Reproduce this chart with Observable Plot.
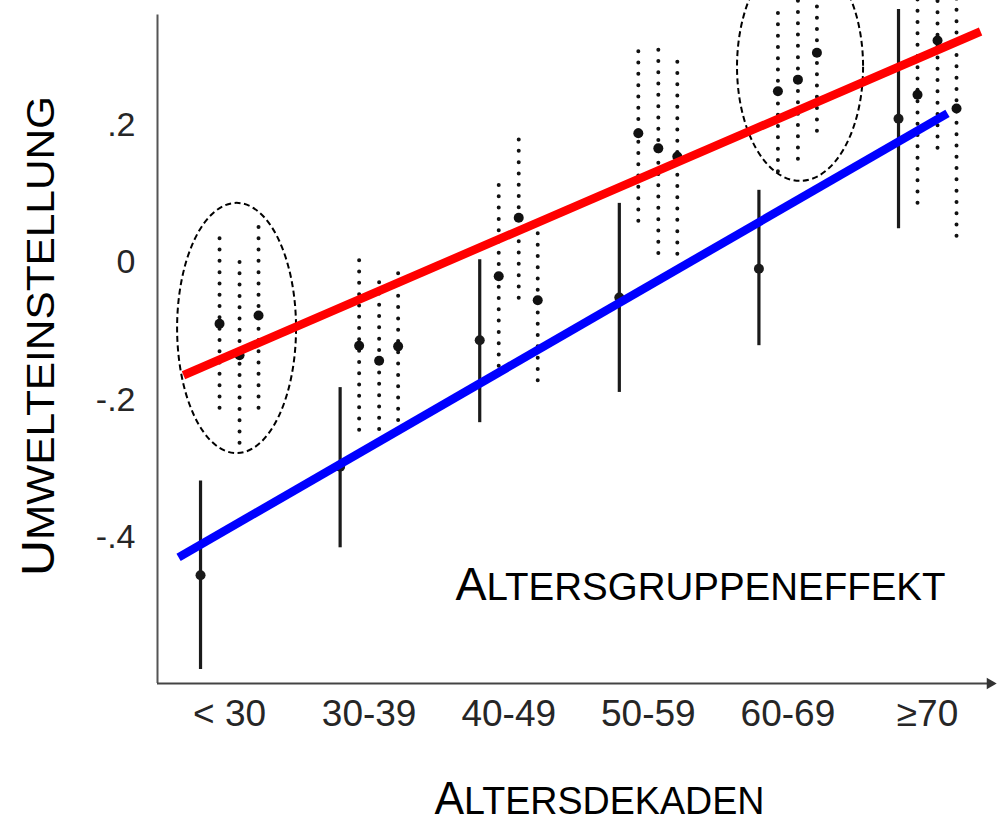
<!DOCTYPE html>
<html><head><meta charset="utf-8">
<script src="https://cdn.jsdelivr.net/npm/d3@7"></script>
<script src="https://cdn.jsdelivr.net/npm/@observablehq/plot@0.6"></script>
<style>
html,body{margin:0;padding:0;background:#fff;}
#chart{width:1005px;height:822px;overflow:hidden;position:relative;}
#chart svg{display:block;}
</style></head><body><div id="chart"></div>
<script>
// ---- data ----
const ageGroups = ["< 30", "30-39", "40-49", "50-59", "60-69", "≥70"];
// cross-sectional means (solid bars)
const crossMean = [-0.455, -0.297, -0.113, -0.051, -0.009, 0.209];
const crossLow  = [-0.592, -0.415, -0.233, -0.189, -0.121, 0.049];
const crossHigh = [-0.318, -0.182, 0.004, 0.086, 0.105, 0.368];
// three cohort series (dotted bars)
const cohortAMean = [-0.089, -0.121, -0.020, 0.188, 0.249, 0.244];
const cohortALow  = [-0.212, -0.244, -0.151, 0.060, 0.132, 0.086];
const cohortAHigh = [0.036, 0.004, 0.112, 0.317, 0.369, 0.385];
const cohortBMean = [-0.135, -0.143, 0.065, 0.166, 0.266, 0.323];
const cohortBLow  = [-0.263, -0.243, -0.052, 0.013, 0.150, 0.166];
const cohortBHigh = [0.000, -0.023, 0.185, 0.320, 0.385, 0.390];
const cohortCMean = [-0.077, -0.122, -0.055, 0.154, 0.305, 0.224];
const cohortCLow  = [-0.212, -0.230, -0.172, 0.012, 0.191, 0.038];
const cohortCHigh = [0.057, -0.015, 0.049, 0.295, 0.395, 0.390];
// trend lines (x in age-group index units)
const redX = [-0.330, 5.380];
const redY = [-0.164, 0.336];
const blueX = [-0.365, 5.143];
const blueY = [-0.429, 0.217];
// highlighted regions (dashed ellipses)
const ellipseX1 = [-0.372, 3.639];
const ellipseX2 = [0.480, 4.542];
const ellipseY1 = [-0.278, 0.118];
const ellipseY2 = [0.086, 0.450];
// axis ticks and texts
const yTicks = [0.2, 0, -0.2, -0.4];
const yTickLabels = [".2", "0", "-.2", "-.4"];
const yTitle = "UMWELTEINSTELLUNG";
const xTitle = "ALTERSDEKADEN";
const noteText = "ALTERSGRUPPENEFFEKT";

// ---- tables ----
const rows = (mean, lo, hi) => ageGroups.map((g, i) => ({i, group: g, mean: mean[i], lo: lo[i], hi: hi[i]}));
const cross = rows(crossMean, crossLow, crossHigh);
const cohA = rows(cohortAMean, cohortALow, cohortAHigh);
const cohB = rows(cohortBMean, cohortBLow, cohortBHigh);
const cohC = rows(cohortCMean, cohortCLow, cohortCHigh);
const red = redX.map((x, k) => ({x, y: redY[k]}));
const blue = blueX.map((x, k) => ({x, y: blueY[k]}));
const ellipses = ellipseX1.map((x1, k) => ({x1, x2: ellipseX2[k], y1: ellipseY1[k], y2: ellipseY2[k]}));

const xDomain = [-0.516, 5.487];
const yDomain = [-0.6124, 0.3811];
const xAxisEnd = 5.448;

const dotted = (data, dx) => [
  Plot.ruleX(data, {x: "i", y1: "lo", y2: "hi", dx, stroke: "#111", strokeWidth: 4, strokeDasharray: "0,11.3", strokeLinecap: "round"}),
  Plot.dot(data, {x: "i", y: "mean", dx, r: 5, fill: "#111", stroke: "none"})
];

const ellipseMark = (index, scales) => {
  const g = d3.create("svg:g");
  for (const e of ellipses) {
    const cx = (scales.x(e.x1) + scales.x(e.x2)) / 2;
    const cy = (scales.y(e.y1) + scales.y(e.y2)) / 2;
    g.append("ellipse")
      .attr("cx", cx).attr("cy", cy)
      .attr("rx", Math.abs(scales.x(e.x2) - scales.x(e.x1)) / 2)
      .attr("ry", Math.abs(scales.y(e.y2) - scales.y(e.y1)) / 2)
      .attr("fill", "none").attr("stroke", "#000").attr("stroke-width", 2)
      .attr("stroke-dasharray", "6,3.5");
  }
  return g.node();
};

const plot = Plot.plot({
  width: 1005,
  height: 822,
  marginLeft: 157,
  marginRight: 10,
  marginTop: 0,
  marginBottom: 139,
  style: {fontFamily: "'Liberation Sans', Arial, sans-serif", background: "#fff", color: "#222"},
  x: {type: "linear", domain: xDomain, axis: null},
  y: {type: "linear", domain: yDomain, axis: null},
  marks: [
    Plot.axisX({ticks: d3.range(ageGroups.length), tickFormat: i => ageGroups[i], tickSize: 0, tickPadding: 16, fontSize: 37, label: null, fill: "#262626"}),
    Plot.axisY({ticks: yTicks, tickFormat: d => yTickLabels[yTicks.indexOf(d)], tickSize: 0, tickPadding: 22, fontSize: 34, label: null, fill: "#262626"}),
    Plot.ruleX([xDomain[0]], {x: d => d, y1: yDomain[0], y2: 0.36, stroke: "#555", strokeWidth: 2}),
    Plot.ruleY([yDomain[0]], {y: d => d, x1: xDomain[0], x2: xAxisEnd, stroke: "#444", strokeWidth: 2}),
    Plot.dot([xAxisEnd], {x: d => d, y: yDomain[0], symbol: "triangle2", rotate: 90, r: 5.5, fill: "#333", stroke: "none"}),
    ...dotted(cohA, -10),
    ...dotted(cohB, 10),
    ...dotted(cohC, 29),
    Plot.ruleX(cross, {x: "i", y1: "lo", y2: "hi", dx: -29, stroke: "#1a1a1a", strokeWidth: 3.2}),
    Plot.dot(cross, {x: "i", y: "mean", dx: -29, r: 5, fill: "#1a1a1a", stroke: "none"}),
    ellipseMark,
    Plot.line(red, {x: "x", y: "y", stroke: "#ff0000", strokeWidth: 8.5, strokeLinecap: "butt"}),
    Plot.line(blue, {x: "x", y: "y", stroke: "#0000ff", strokeWidth: 8.5, strokeLinecap: "butt"}),
    Plot.text([noteText], {text: d => d, frameAnchor: "bottom-left", dx: 298, dy: -84, textAnchor: "start", lineAnchor: "bottom", fontSize: 40, fill: "#000"}),
    Plot.text([xTitle], {text: d => d, frameAnchor: "bottom", dx: 23, dy: 130, textAnchor: "middle", lineAnchor: "bottom", fontSize: 40, fill: "#000"}),
    Plot.text([yTitle], {text: d => d, frameAnchor: "left", dx: 53 - 157, dy: -6, rotate: -90, textAnchor: "middle", lineAnchor: "bottom", fontSize: 40, fill: "#000"})
  ]
});

// small caps: larger initial capital
const capSpecs = {
  [yTitle]: {big: 46, small: 39, len: 480},
  [xTitle]: {big: 46, small: 39, len: 330},
  [noteText]: {big: 46, small: 38, len: 490}
};
const ns = "http://www.w3.org/2000/svg";
plot.querySelectorAll("text").forEach(t => {
  const s = t.textContent;
  const sp = capSpecs[s];
  if (!sp) return;
  t.textContent = "";
  const a = document.createElementNS(ns, "tspan");
  a.setAttribute("font-size", sp.big);
  a.textContent = s[0];
  const b = document.createElementNS(ns, "tspan");
  b.setAttribute("font-size", sp.small);
  b.textContent = s.slice(1);
  t.append(a, b);
  t.setAttribute("textLength", sp.len);
  t.setAttribute("lengthAdjust", "spacingAndGlyphs");
});

document.getElementById("chart").append(plot);
</script>
</body></html>
